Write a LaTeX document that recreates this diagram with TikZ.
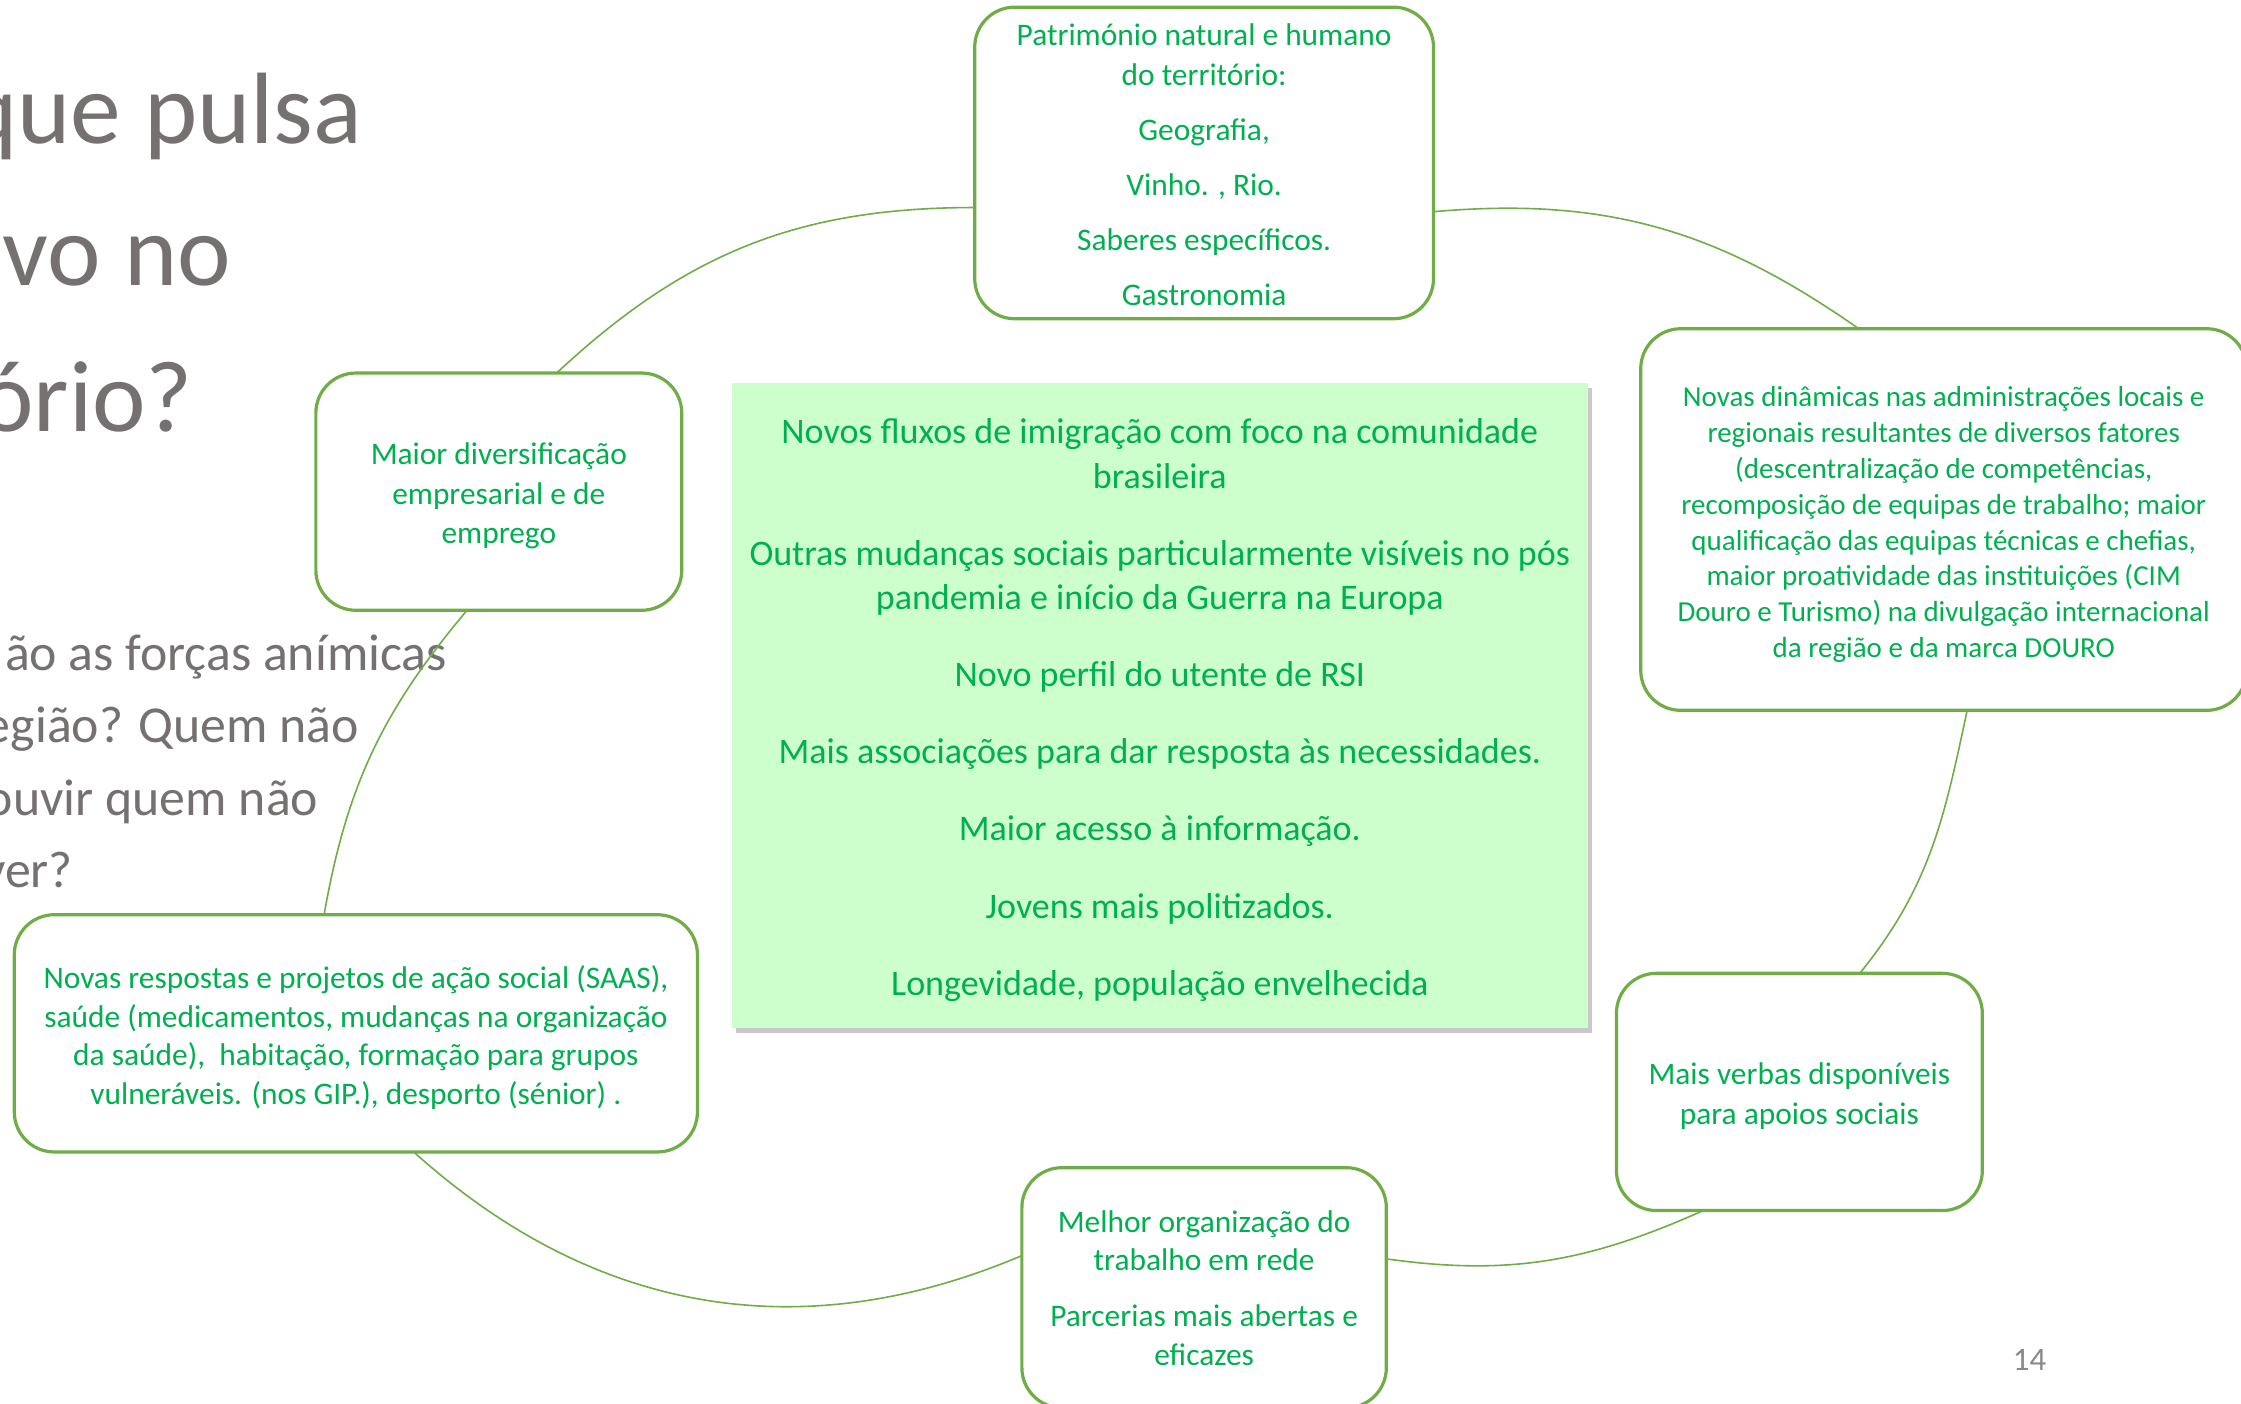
\documentclass[tikz,border=0pt]{standalone}
\usepackage{fontspec}
\setmainfont{Carlito}
\usetikzlibrary{shadows}
\definecolor{boxgreen}{HTML}{70AD47}
\definecolor{txtgreen}{HTML}{00B050}
\definecolor{centerfill}{HTML}{CCFFCC}
\definecolor{titlegray}{HTML}{767171}
\definecolor{numgray}{HTML}{898989}
\newcommand{\rpx}{0.7146pt}
\begin{document}
\begin{tikzpicture}[x=0.7146pt,y=-0.7146pt,
  roundbox/.style={draw=boxgreen, line width=1.6pt, rounded corners=20pt, fill=white,
    inner sep=0pt, outer sep=0pt},
  boxtext/.style={align=center, text=txtgreen, inner sep=0pt, outer sep=0pt},
  link/.style={draw=boxgreen, line width=0.8pt},
  graytext/.style={text=titlegray, anchor=base west, inner sep=0pt, outer sep=0pt},
  titlefont/.style={font=\fontsize{50.7}{60}\selectfont},
  bodyfont/.style={font=\fontsize{25.9}{30}\selectfont}
]
\useasboundingbox (0,0) rectangle (1568,982);
\fill[white] (0,0) rectangle (1568,982);
\clip (0,0) rectangle (1568,982);

% left gray title and question text
\node[graytext, titlefont] (t1) at (-25,100.5) {que pulsa};
\node[graytext, titlefont] (t2) at (2,199.5) {vo no};
\node[graytext, titlefont] (t3) at (-13.7,302) {ório?};
\node[graytext, bodyfont] (b1) at (3.5,469) {ão as forças anímicas};
\node[graytext, bodyfont] (b2) at (-10.5,519.5) {egião? Quem não};
\node[graytext, bodyfont] (b3) at (-9.8,570.5) {ouvir quem não};
\node[graytext, bodyfont] (b4) at (-12.5,621) {ver?};

% boxes
\node[roundbox, minimum width=321*\rpx, minimum height=218*\rpx] (patr) at (842.5,114) {};
\node[roundbox, minimum width=256*\rpx, minimum height=166*\rpx] (maior) at (349,344) {};
\node[roundbox, minimum width=424*\rpx, minimum height=267*\rpx] (dinam) at (1360,363.5) {};
\node[roundbox, minimum width=256*\rpx, minimum height=166*\rpx] (verbas) at (1259,764) {};
\node[roundbox, minimum width=255*\rpx, minimum height=168*\rpx] (melhor) at (842.5,901) {};
\node[roundbox, minimum width=478*\rpx, minimum height=166*\rpx] (resp) at (249,723) {};

% box texts
\node[boxtext, font=\fontsize{15.7}{20}\selectfont] (patrT) at ([yshift=-0.7pt]patr.center)
  {Património natural e humano\\do território:\\[7.5pt]Geografia,\hspace*{0.45em}\\[7.5pt]Vinho. , Rio.\\[7.5pt]Saberes específicos.\hspace*{0.2em}\\[7.5pt]Gastronomia};
\node[boxtext, font=\fontsize{15.7}{19.65}\selectfont] (maiorT) at ([yshift=-2.1pt]maior.center)
  {Maior diversificação\\empresarial e de\\emprego};
\node[boxtext, font=\fontsize{14.5}{17.9}\selectfont] (dinamT) at ([yshift=-2.5pt]dinam.center)
  {Novas dinâmicas nas administrações locais e\\regionais resultantes de diversos fatores\\(descentralização de competências,\\recomposição de equipas de trabalho; maior\\qualificação das equipas técnicas e chefias,\\maior proatividade das instituições (CIM\\Douro e Turismo) na divulgação internacional\\da região e da marca DOURO};
\node[boxtext, font=\fontsize{15.7}{20}\selectfont] (verbasT) at ([yshift=-2.1pt]verbas.center)
  {Mais verbas disponíveis\\para apoios sociais};
\node[boxtext, font=\fontsize{15.7}{19.3}\selectfont] (melhorT) at (melhor.center)
  {Melhor organização do\\trabalho em rede\\[8.6pt]Parcerias mais abertas e\\eficazes};
\node[boxtext, font=\fontsize{15.7}{19.3}\selectfont] (respT) at ([yshift=-2.1pt]resp.center)
  {Novas respostas e projetos de ação social (SAAS),\\saúde (medicamentos, mudanças na organização\\da saúde),\ \ habitação, formação para grupos\\vulneráveis. (nos GIP.), desporto (sénior) .};

% centre box
\node[fill=centerfill, inner sep=0pt, outer sep=0pt, minimum width=599*\rpx, minimum height=451*\rpx,
  drop shadow={shadow xshift=2pt, shadow yshift=-2.5pt, opacity=0.35, fill=black!60}] (ctr) at (811.5,493.5) {};
\node[boxtext, font=\fontsize{18}{22.15}\selectfont] (ctrT) at ([yshift=-2.4pt]ctr.center)
  {Novos fluxos de imigração com foco na comunidade\\brasileira\\[16.4pt]Outras mudanças sociais particularmente visíveis no pós\\pandemia e início da Guerra na Europa\\[16.4pt]Novo perfil do utente de RSI\\[16.4pt]Mais associações para dar resposta às necessidades.\\[16.4pt]Maior acesso à informação.\\[16.4pt]Jovens mais politizados.\\[16.4pt]Longevidade, população envelhecida};

% connectors
\draw[link] (patr.191.6) to[out=180,in=43] (maior.64.8);
\draw[link] (maior.255.2) to[out=230,in=80] (resp.105.5);
\draw[link] (resp.296.3) to[out=318,in=203] (melhor.170.6);
\draw[link] (melhor.9.35) to[out=352,in=204] (verbas.231.1);
\draw[link] (verbas.63.7) to[out=51,in=258] (dinam.277.7);
\draw[link] (dinam.114.2) to[out=145,in=5] (patr.348.4);

% page number
\node[text=numgray, font=\fontsize{16.4}{20}\selectfont, anchor=base, inner sep=0pt] (pg) at (1420,959) {14};
\end{tikzpicture}
\end{document}
